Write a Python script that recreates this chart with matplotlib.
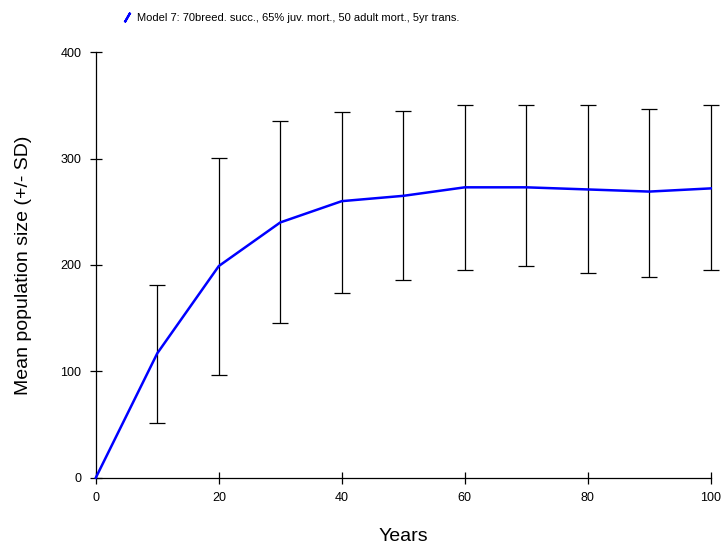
import numpy as np
import matplotlib
matplotlib.use('Agg')
from matplotlib import pyplot as plt
from matplotlib.lines import Line2D

plt.rcParams['font.family'] = ['Liberation Sans', 'DejaVu Sans']

years = [0, 10, 20, 30, 40, 50, 60, 70, 80, 90, 100]
mean_pop = [0, 117, 199, 240, 260, 265, 273, 273, 271, 269, 272]
sd_low = [0, 51, 97, 145, 174, 186, 195, 199, 192, 189, 195]
sd_high = [0, 181, 301, 335, 344, 345, 350, 350, 350, 347, 350]

series_label = 'Model 7: 70breed. succ., 65% juv. mort., 50 adult mort., 5yr trans.'
x_ticks = [0, 20, 40, 60, 80, 100]
y_ticks = [0, 100, 200, 300, 400]

mean_arr = np.array(mean_pop)
yerr = np.vstack([mean_arr - np.array(sd_low), np.array(sd_high) - mean_arr])

fig = plt.figure(figsize=(7.26, 5.5), dpi=100)
ax = fig.add_axes([0.132, 0.1315, 0.847, 0.7735])

# error bars (skip year 0, no spread there)
eb = ax.errorbar(years[1:], mean_pop[1:], yerr=yerr[:, 1:], fmt='none', ecolor='black',
                 elinewidth=0.9, capsize=6, capthick=0.9, zorder=2)
for part in eb.lines[1] + eb.lines[2]:
    part.set_clip_on(False)
ax.plot(years, mean_pop, color='#0000ff', lw=1.8, zorder=3, clip_on=False)

ax.set_xlim(0, 100)
ax.set_ylim(0, 400)
ax.set_xticks(x_ticks)
ax.set_yticks(y_ticks)
for s in ['top', 'right']:
    ax.spines[s].set_visible(False)
for s in ['left', 'bottom']:
    ax.spines[s].set_linewidth(0.9)
ax.tick_params(direction='inout', length=9, width=0.9, labelsize=9)
ax.tick_params(axis='x', pad=6)
ax.tick_params(axis='y', pad=6)

ax.set_xlabel('Years', fontsize=14, labelpad=17)
ax.set_ylabel('Mean population size (+/- SD)', fontsize=14, labelpad=20)

handle = Line2D([], [], color='#0000ff', linestyle='none', marker=(2, 2, -30),
                markersize=8, markeredgewidth=1.6)
fig.legend([handle], [series_label], loc='upper left', bbox_to_anchor=(0.155, 0.995),
           frameon=False, fontsize=8, handlelength=0.8, handletextpad=0.5)

fig.savefig('out.png', dpi=100)
